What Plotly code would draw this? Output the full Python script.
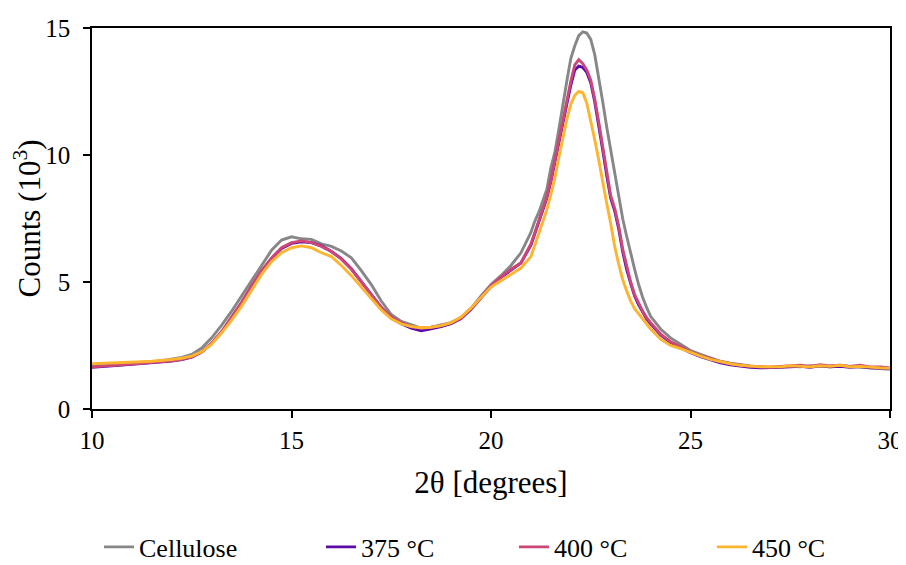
import plotly.graph_objects as go

two_theta = [10, 10.25, 10.5, 10.75, 11, 11.25, 11.5, 11.75, 12, 12.25, 12.5, 12.75, 13, 13.25, 13.5, 13.75,
             14, 14.25, 14.5, 14.75, 15, 15.25, 15.5, 15.75, 16, 16.25, 16.5, 16.75, 17, 17.25, 17.5, 17.75,
             18, 18.25, 18.5, 18.75, 19, 19.25, 19.5, 19.75, 20, 20.25, 20.5, 20.75,
             21, 21.1, 21.2, 21.3, 21.4, 21.5, 21.6, 21.7, 21.8, 21.9, 22.0, 22.1, 22.2, 22.3, 22.4, 22.5,
             22.6, 22.7, 22.8, 22.9, 23.0, 23.1, 23.2, 23.3, 23.4, 23.5, 23.6, 23.7, 23.8, 23.9,
             24, 24.25, 24.5, 24.75, 25, 25.25, 25.5, 25.75, 26, 26.25, 26.5, 26.75, 27, 27.25, 27.5, 27.75,
             28, 28.25, 28.5, 28.75, 29, 29.25, 29.5, 29.75, 30]

cellulose = [1.72, 1.74, 1.76, 1.78, 1.80, 1.83, 1.86, 1.90, 1.96, 2.03, 2.15, 2.40, 2.80, 3.30, 3.85, 4.45,
             5.10, 5.70, 6.25, 6.65, 6.78, 6.70, 6.68, 6.50, 6.40, 6.22, 5.95, 5.45, 4.90, 4.25, 3.72, 3.45,
             3.30, 3.18, 3.22, 3.30, 3.40, 3.60, 3.95, 4.45, 4.90, 5.25, 5.65, 6.15,
             6.95, 7.40, 7.75, 8.20, 8.65, 9.50, 10.1, 11.0, 12.0, 12.9, 13.8, 14.3, 14.7, 14.85, 14.8, 14.55,
             13.95, 13.1, 12.1, 11.1, 10.2, 9.2, 8.3, 7.5, 6.8, 6.1, 5.5, 4.9, 4.4, 4.0,
             3.65, 3.15, 2.80, 2.55, 2.30, 2.15, 2.00, 1.88, 1.80, 1.74, 1.70, 1.66, 1.64, 1.66, 1.68, 1.66,
             1.70, 1.68, 1.66, 1.70, 1.66, 1.64, 1.62, 1.60, 1.56]

c375 = [1.64, 1.66, 1.70, 1.73, 1.76, 1.79, 1.82, 1.85, 1.89, 1.95, 2.04, 2.24, 2.58, 3.03, 3.58, 4.18,
        4.82, 5.42, 5.92, 6.32, 6.52, 6.58, 6.55, 6.42, 6.20, 5.92, 5.52, 5.02, 4.52, 4.00, 3.60, 3.36,
        3.18, 3.08, 3.16, 3.24, 3.36, 3.56, 3.93, 4.38, 4.82, 5.18, 5.48, 5.75,
        6.45, 6.90, 7.35, 7.85, 8.30, 8.95, 9.75, 10.5, 11.3, 12.0, 12.75, 13.35, 13.5, 13.45, 13.25, 12.85,
        12.1, 11.2, 10.2, 9.2, 8.3, 7.8, 7.1, 6.2, 5.5, 4.95, 4.45, 4.1, 3.8, 3.55,
        3.35, 2.92, 2.62, 2.42, 2.22, 2.06, 1.94, 1.82, 1.74, 1.68, 1.64, 1.62, 1.62, 1.64, 1.66, 1.68,
        1.64, 1.70, 1.66, 1.68, 1.64, 1.68, 1.62, 1.62, 1.60]

c400 = [1.66, 1.68, 1.72, 1.74, 1.77, 1.80, 1.83, 1.86, 1.90, 1.96, 2.05, 2.25, 2.60, 3.05, 3.60, 4.20,
        4.85, 5.45, 5.95, 6.35, 6.55, 6.62, 6.55, 6.40, 6.20, 5.90, 5.50, 5.00, 4.50, 4.00, 3.62, 3.40,
        3.25, 3.18, 3.22, 3.28, 3.38, 3.58, 3.95, 4.40, 4.85, 5.20, 5.50, 5.75,
        6.50, 6.95, 7.40, 7.90, 8.35, 9.00, 9.80, 10.6, 11.4, 12.1, 12.9, 13.55, 13.75, 13.6, 13.35, 12.95,
        12.2, 11.3, 10.3, 9.3, 8.4, 7.9, 7.2, 6.3, 5.6, 5.0, 4.5, 4.15, 3.85, 3.6,
        3.4, 2.95, 2.65, 2.45, 2.25, 2.10, 1.97, 1.86, 1.78, 1.72, 1.68, 1.66, 1.65, 1.68, 1.70, 1.72,
        1.68, 1.74, 1.70, 1.72, 1.68, 1.72, 1.66, 1.66, 1.62]

c450 = [1.78, 1.79, 1.80, 1.82, 1.84, 1.86, 1.88, 1.91, 1.95, 2.00, 2.08, 2.25, 2.55, 3.00, 3.50, 4.05,
        4.70, 5.30, 5.80, 6.15, 6.35, 6.42, 6.35, 6.15, 6.00, 5.65, 5.25, 4.80, 4.35, 3.90, 3.55, 3.35,
        3.25, 3.20, 3.22, 3.28, 3.40, 3.62, 3.98, 4.40, 4.80, 5.05, 5.30, 5.55,
        6.00, 6.45, 6.90, 7.40, 7.85, 8.45, 9.10, 9.90, 10.7, 11.4, 12.0, 12.35, 12.5, 12.45, 12.05, 11.35,
        10.6, 9.8, 8.9, 8.1, 7.3, 6.4, 5.7, 5.1, 4.65, 4.25, 3.95, 3.75, 3.55, 3.35,
        3.15, 2.75, 2.50, 2.38, 2.22, 2.08, 1.95, 1.85, 1.78, 1.72, 1.68, 1.66, 1.67, 1.66, 1.70, 1.68,
        1.66, 1.70, 1.68, 1.72, 1.66, 1.68, 1.64, 1.62, 1.60]

series_names = ["Cellulose", "375 °C", "400 °C", "450 °C"]
series_values = [cellulose, c375, c400, c450]
series_colors = ["#878787", "#5c0aa8", "#cc4778", "#fdb42f"]

x_ticks = [10, 15, 20, 25, 30]
y_ticks = [0, 5, 10, 15]

legend_ids = ["legend", "legend2", "legend3", "legend4"]
legend_x = [0.0088, 0.287, 0.5288, 0.7769]

fig = go.Figure()
for name, vals, col, lid in zip(series_names, series_values, series_colors, legend_ids):
    fig.add_trace(go.Scatter(x=two_theta, y=vals, mode="lines", name=name, legend=lid,
                             line=dict(color=col, width=2.9)))

font_family = "Liberation Serif"
axis_common = dict(showgrid=False, zeroline=False, showline=True, linecolor="black",
                   linewidth=1.5, mirror=True, ticks="outside", ticklen=7, tickwidth=1.5,
                   tickcolor="black", automargin=False, tickfont=dict(size=25))
legend_layout = {
    lid: dict(orientation="h", x=lx, xanchor="left", y=-0.3622, yanchor="middle",
              font=dict(size=26), bgcolor="rgba(0,0,0,0)")
    for lid, lx in zip(legend_ids, legend_x)
}
fig.update_layout(
    width=898, height=600,
    margin=dict(l=84, r=16, t=20, b=199),
    paper_bgcolor="white", plot_bgcolor="white",
    font=dict(family=font_family, size=26, color="black"),
    showlegend=True,
    xaxis=dict(range=[10, 30], tickvals=x_ticks, ticklabelstandoff=1,
               title=dict(text="2θ [degrees]", standoff=19), **axis_common),
    yaxis=dict(range=[0, 15], tickvals=y_ticks, ticklabelstandoff=8,
               title=dict(text="Counts (10<sup>3</sup>)", standoff=38), **axis_common),
    **legend_layout,
)

fig.write_html("out.html")
